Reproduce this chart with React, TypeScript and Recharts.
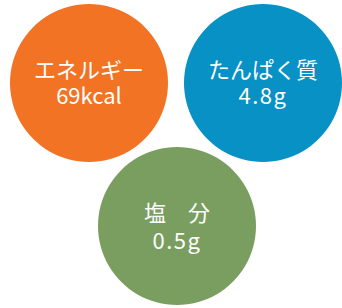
import { PieChart, Pie, Cell } from 'recharts';

const NUTRIENTS = ['エネルギー', 'たんぱく質', '塩\u3000分'];
const AMOUNTS = [69, 4.8, 0.5];
const UNITS = ['kcal', 'g', 'g'];

const COLORS = ['#F37324', '#0791C4', '#7A9E5F'];
// circle centres on the page
const CENTERS = [
  { cx: 89, cy: 83 },
  { cx: 263, cy: 83 },
  { cx: 177, cy: 226 },
];
const RADIUS = 79;
const FONT = '"Noto Sans CJK JP", "Noto Sans", sans-serif';

export default function App() {
  return (
    <div style={{ position: 'absolute', left: 0, top: 0, width: 342, height: 308 }}>
      <PieChart width={342} height={308} margin={{ top: 0, right: 0, bottom: 0, left: 0 }}>
        {NUTRIENTS.map((name, i) => {
          const data = [{ name, value: AMOUNTS[i] }];
          const amount = `${AMOUNTS[i]}${UNITS[i]}`;
          const gap = i === 2 ? 2 : 0;
          return (
            <Pie
              key={name}
              data={data}
              dataKey="value"
              nameKey="name"
              cx={CENTERS[i].cx}
              cy={CENTERS[i].cy}
              outerRadius={RADIUS}
              startAngle={90}
              endAngle={-270}
              stroke="none"
              labelLine={false}
              isAnimationActive={false}
              label={(p: any) => (
                <g>
                  <text x={p.cx} y={p.cy - 5} textAnchor="middle" fill="#fff" fontSize={22} fontFamily={FONT}>
                    {name}
                  </text>
                  <text
                    x={p.cx}
                    y={p.cy + 21 + gap}
                    textAnchor="middle"
                    fill="#fff"
                    fontSize={22}
                    fontFamily={FONT}
                    letterSpacing={i > 0 ? 1.5 : 0}
                  >
                    {amount}
                  </text>
                </g>
              )}
            >
              <Cell fill={COLORS[i]} />
            </Pie>
          );
        })}
      </PieChart>
    </div>
  );
}
